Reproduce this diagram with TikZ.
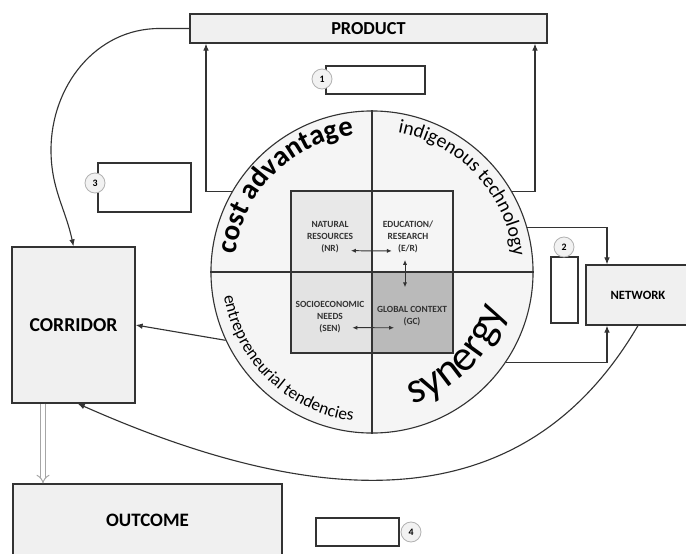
\documentclass[tikz,border=0pt]{standalone}
\usepackage{fontspec}
\setmainfont{Carlito}
\usetikzlibrary{arrows.meta,decorations.text}

\tikzset{
  box/.style={draw=black!80,fill=black!6,line width=0.8pt,inner sep=0pt},
  blank/.style={draw=black!80,fill=white,line width=0.8pt,inner sep=0pt},
  numb/.style={circle,draw=black!30,fill=black!5,line width=0.6pt,minimum size=0.5cm,inner sep=0pt,font=\fontsize{7}{7}\selectfont\bfseries},
  quad/.style={draw=black!80,line width=0.8pt,minimum size=2.025cm,inner sep=0pt},
  small/.style={align=center,text=black!80,font=\fontsize{6.7}{8.5}\selectfont\bfseries,inner sep=1pt},
  dbl/.style={{Latex[length=3.5pt,width=3pt]}-{Latex[length=3.5pt,width=3pt]},line width=0.7pt},
  arctext/.style={decorate,decoration={text along path,text align=center,text={#1}}}
}

\begin{document}
\begin{tikzpicture}[x=0.025cm,y=0.025cm,line width=0.8pt,draw=black!80,>={Latex[length=5pt,width=4pt]}]
  \useasboundingbox (0,0) rectangle (686,-554);
  % wheel with the four quarters
  \node[circle,draw=black!80,fill=black!4,minimum size=8.05cm,inner sep=0pt] (wheel) at (372,-272) {};
  \node[quad,fill=black!9]  (nr)  at (331.5,-231.5) {};
  \node[quad,fill=black!4]  (er)  at (412.5,-231.5) {};
  \node[quad,fill=black!11] (sen) at (331.5,-312.5) {};
  \node[quad,fill=black!27] (gc)  at (412.5,-312.5) {};
  \draw (wheel.north) -- (wheel.south);
  \draw (wheel.west) -- (wheel.east);
  \node[small] (nr_t)  at (330,-237) {NATURAL\\RESOURCES\\(NR)};
  \node[small] (er_t)  at (408,-237) {EDUCATION/\\RESEARCH\\(E/R)};
  \node[small] (sen_t) at (330,-317) {SOCIOECONOMIC\\NEEDS\\(SEN)};
  \node[small] (gc_t)  at (412,-316) {GLOBAL CONTEXT\\(GC)};
  \draw[dbl] ([shift={(-4,4)}]nr_t.south east) -- ([shift={(11,4)}]er_t.south west);
  \draw[dbl] ([shift={(-3,-5)}]er_t.south) -- ([shift={(-7,17)}]gc_t.north);
  \draw[dbl] ([shift={(-14,7)}]sen_t.south east) -- ([shift={(19,0)}]gc_t.south west);
  \begin{scope}[shift={(wheel.center)}]
    \path[arctext={|\fontsize{20.5}{20.5}\selectfont\bfseries|cost advantage}] (185:138) arc[start angle=185,end angle=85,radius=138];
    \path[arctext={|\fontsize{14}{14}\selectfont|indigenous technology}] (95:142) arc[start angle=95,end angle=-9,radius=142];
    \path[arctext={|\fontsize{12.3}{12.3}\selectfont|entrepreneurial tendencies}] (176:150) arc[start angle=176,end angle=276,radius=150];
    \path[arctext={|\fontsize{31}{31}\selectfont|synergy}] (265:138) arc[start angle=265,end angle=366,radius=138];
  \end{scope}

  % outer boxes
  \node[box,minimum width=8.925cm,minimum height=0.725cm,font=\fontsize{13}{13}\selectfont\bfseries] (product) at (368.5,-28.5) {PRODUCT};
  \node[box,minimum width=3.075cm,minimum height=3.9cm,font=\fontsize{14}{14}\selectfont\bfseries] (corridor) at (73.5,-325) {CORRIDOR};
  \node[box,minimum width=2.6cm,minimum height=1.5cm,font=\fontsize{9}{9}\selectfont\bfseries] (network) at (638,-295) {NETWORK};
  \node[box,minimum width=6.725cm,minimum height=1.8cm,font=\fontsize{13.5}{13.5}\selectfont\bfseries] (outcome) at (147.5,-520) {OUTCOME};

  \node[blank,minimum width=2.475cm,minimum height=0.7cm] (box_1) at (375.5,-80) {};
  \node[blank,minimum width=0.675cm,minimum height=1.65cm] (box_2) at (564.5,-290) {};
  \node[blank,minimum width=2.325cm,minimum height=1.225cm] (box_3) at (144.5,-187.5) {};
  \node[blank,minimum width=2.075cm,minimum height=0.7cm] (box_4) at (357.5,-532) {};
  \node[numb] (num_1) at (322,-79) {1};
  \node[numb] (num_2) at (564,-247) {2};
  \node[numb] (num_3) at (95,-183) {3};
  \node[numb] (num_4) at (411,-532) {4};

  \coordinate (bend_l) at (206,-191);
  \coordinate (bend_r) at (535,-191);
  \coordinate (bend_n) at (607,-227);
  \coordinate (bend_o) at (43,-420);
  \coordinate (bend_c) at (51,-150);

  \draw[->] (wheel.150) -| (product.south -| bend_l);
  \draw[->] (wheel.30) -| (product.south -| bend_r);
  \draw[->] (wheel.16) -| (network.north -| bend_n);
  \draw[->] (wheel.-34) -| (network.south -| bend_n);
  \draw[->] (wheel.205) -- (corridor.east);
  \draw[->] (product.west) -- ++(-30,0) to[out=180,in=90] (bend_c) to[out=-90,in=102] (corridor.north);
  \draw[->] (network.south) .. controls (530,-510) and (340,-520) .. ([xshift=3]corridor.south);
  \draw[draw=black!35,double=white,double distance=2.5pt,line width=0.7pt,-{Implies[scale=2]}] (corridor.south -| bend_o) -- (outcome.north -| bend_o);
\end{tikzpicture}
\end{document}
